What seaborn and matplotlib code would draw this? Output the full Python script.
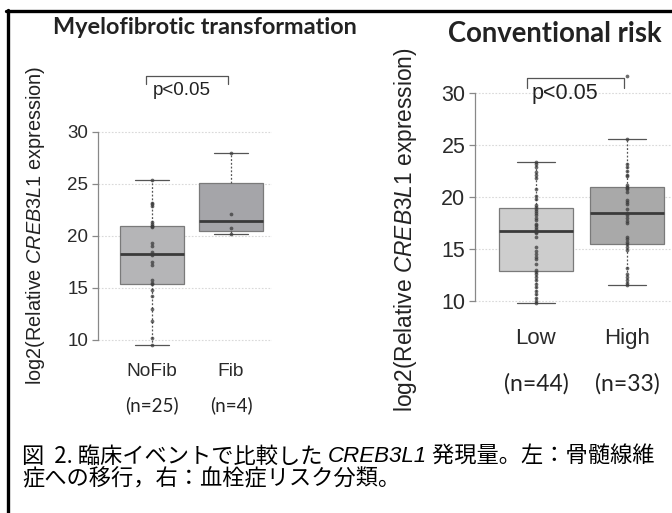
import numpy as np
import pandas as pd
import matplotlib
matplotlib.use("Agg")
import matplotlib.pyplot as plt
from matplotlib.lines import Line2D
import seaborn as sns

# ---------------- data ----------------
fib_groups = ["NoFib", "Fib"]
fib_n = [25, 4]
nofib_vals = [9.5, 10.2, 11.8, 13.0, 14.2, 14.8, 15.4, 15.5, 15.8, 17.2, 17.5, 18.2, 18.3,
              18.5, 19.0, 19.3, 20.9, 21.0, 21.0, 21.2, 21.3, 22.9, 23.1, 23.2, 25.4]
fib_vals = [20.2, 20.8, 22.1, 28.0]

risk_groups = ["Low", "High"]
risk_n = [44, 33]
low_vals = [9.8, 10.0, 10.3, 10.7, 11.0, 11.3, 11.6, 12.0, 12.3, 12.6, 12.8, 13.0, 13.6, 14.0,
            14.2, 14.5, 14.8, 15.2, 16.2, 16.5, 16.6, 16.7, 16.7, 16.9, 17.1, 17.3, 17.4, 17.8,
            18.0, 18.3, 18.5, 18.7, 18.8, 19.0, 19.2, 19.8, 20.1, 20.8, 21.8, 22.1, 22.4, 22.9,
            23.2, 23.4]
high_vals = [11.5, 11.7, 12.0, 12.3, 12.6, 13.2, 14.9, 15.2, 15.5, 15.7, 16.0, 16.2, 17.5,
             17.7, 18.0, 18.3, 18.5, 18.8, 19.3, 19.5, 19.7, 20.5, 20.8, 20.9, 21.0, 21.2,
             22.0, 22.1, 22.5, 22.9, 23.2, 25.6, 31.6]

yticks = [10, 15, 20, 25, 30]
p_text = "p<0.05"
titles = ["Myelofibrotic transformation", "Conventional risk"]
ylabel = r"log2(Relative $\mathit{CREB3L1}$ expression)"
caption1a = "図  2. 臨床イベントで比較した "
caption1b = "CREB3L1"
caption1c = " 発現量。左：骨髄線維"
caption2 = "症への移行，右：血栓症リスク分類。"

# ---------------- style ----------------
sns.set_theme(style="white")
plt.rcParams["font.family"] = ["Liberation Sans", "DejaVu Sans"]
plt.rcParams["mathtext.fontset"] = "custom"
plt.rcParams["mathtext.rm"] = "Liberation Sans"
plt.rcParams["mathtext.it"] = "Liberation Sans:italic"

fig = plt.figure(figsize=(6.72, 5.13), dpi=100)
fig.patch.set_facecolor("white")


def fivenum_stats(vals, label):
    v = np.sort(np.asarray(vals, float))
    n = len(v)
    med = np.median(v)
    half = (n + 1) // 2
    lh = np.median(v[:half])
    uh = np.median(v[n - half:])
    iqr = uh - lh
    lo = v[v >= lh - 1.5 * iqr].min()
    hi = v[v <= uh + 1.5 * iqr].max()
    return dict(label=label, med=med, q1=lh, q3=uh, whislo=lo, whishi=hi, fliers=[])


def panel(ax, groups, values, ns, colors, xlim, ylim, tick_fs, lab_fs, n_fs,
          lab_pad, n_off, grid_right):
    df = pd.DataFrame({"group": np.repeat(groups, [len(v) for v in values]),
                       "value": np.concatenate(values)})
    for yt in yticks:
        ax.plot([xlim[0], grid_right], [yt, yt], color="#d9d9d9", lw=0.8,
                ls=(0, (1.5, 1.5)), zorder=0)
    stats = [fivenum_stats(v, g) for v, g in zip(values, groups)]
    bp = ax.bxp(stats, positions=range(len(groups)), widths=0.81, capwidths=0.42,
                patch_artist=True, showfliers=False,
                boxprops=dict(edgecolor="#7a7a7a", linewidth=0.9),
                medianprops=dict(color="#3a3a3a", linewidth=2.0),
                whiskerprops=dict(color="#555555", linewidth=0.9, linestyle=(0, (1.5, 1.5))),
                capprops=dict(color="#555555", linewidth=0.9), zorder=2)
    for patch, c in zip(bp["boxes"], colors):
        patch.set_facecolor(c)
    sns.stripplot(data=df, x="group", y="value", order=groups, jitter=False,
                  color="#3c3c3c", size=2.7, alpha=0.75, linewidth=0, ax=ax, zorder=3)
    ax.set_xlim(*xlim)
    ax.set_ylim(*ylim)
    ax.set_yticks(yticks)
    ax.set_xlabel("")
    ax.set_ylabel("")
    for s in ["top", "right", "bottom"]:
        ax.spines[s].set_visible(False)
    ax.spines["left"].set_bounds(10, 30)
    ax.spines["left"].set_color("#888888")
    ax.spines["left"].set_linewidth(0.9)
    ax.tick_params(axis="y", left=True, length=4, width=0.9, color="#888888",
                   labelsize=tick_fs, labelcolor="#2a2a2a", pad=3)
    ax.tick_params(axis="x", bottom=False, length=0, labelsize=lab_fs,
                   labelcolor="#2a2a2a", pad=lab_pad)
    ax.set_xticks(range(len(groups)))
    ax.set_xticklabels(groups)
    for i, n in enumerate(ns):
        ax.annotate(f"(n={n})", xy=(i, 0), xycoords=ax.get_xaxis_transform(),
                    xytext=(0, -n_off), textcoords="offset pixels",
                    ha="center", va="center", fontsize=n_fs, family="Lato",
                    color="#222222", annotation_clip=False)
    ax.set_facecolor("none")


# Left panel
axL = fig.add_axes([98 / 672, 1 - 350.4 / 513, 174 / 672, 228.8 / 513])
panel(axL, fib_groups, [nofib_vals, fib_vals], fib_n, ["#b5b5b7", "#a5a5a9"],
      (-0.684, 1.519), (9.0, 31.0), 13.5, 13.8, 13.5, 9, 55, 1.519)

# Right panel
axR = fig.add_axes([475 / 672, 1 - 311.4 / 513, 197 / 672, 249.6 / 513])
panel(axR, risk_groups, [low_vals, high_vals], risk_n, ["#cdcdcd", "#a9a9a9"],
      (-0.67, 1.495), (9.0, 33.0), 15.5, 16, 16.5, 12, 72, 1.495)

# brackets
def bracket(ax, x0, x1, ytop, ybot, ytext, xtext, fs):
    ax.plot([x0, x0, x1, x1], [ybot, ytop, ytop, ybot], color="#555555", lw=0.9,
            clip_on=False, zorder=4)
    ax.text(xtext, ytext, p_text, ha="center", va="center", fontsize=fs,
            color="#222222", clip_on=False)

bracket(axL, -0.076, 0.96, 35.4, 34.6, 34.0, 0.38, 13.5)
bracket(axR, -0.10, 0.967, 31.44, 30.48, 30.0, 0.32, 15.5)

# y labels
axL.text(-0.362, 0.548, ylabel, rotation=90, ha="center", va="center",
         transform=axL.transAxes, fontsize=14.3, color="#222222")
axR.text(-0.355, 0.326, ylabel, rotation=90, ha="center", va="center",
         transform=axR.transAxes, fontsize=16.4, color="#222222")

# titles
fig.text(205 / 672, 1 - 28 / 513, titles[0], ha="center", va="center",
         fontsize=16.9, fontweight="bold", family="Lato", color="#222222")
fig.text(555 / 672, 1 - 34 / 513, titles[1], ha="center", va="center",
         fontsize=19.8, fontweight="bold", family="Lato", color="#222222")

# caption
cjk = ["Noto Sans CJK JP", "DejaVu Sans"]
cap_fs = 16.0
yc = 1 - 456 / 513
t1 = fig.text(22 / 672, yc, caption1a, ha="left", va="center",
              fontsize=cap_fs, family=cjk, color="black")
t2 = fig.text(0, 0, caption1b, fontsize=cap_fs, family="Liberation Sans",
              style="italic", color="black", va="center", ha="left")
t3 = fig.text(0, 0, caption1c, fontsize=cap_fs, family=cjk, color="black",
              va="center", ha="left")
fig.canvas.draw()
r = fig.canvas.get_renderer()
W = fig.bbox.width
bb1 = t1.get_window_extent(r)
t2.set_position((bb1.x1 / W, yc))
fig.canvas.draw()
bb2 = t2.get_window_extent(r)
t3.set_position((bb2.x1 / W, yc))
fig.text(22 / 672, 1 - 479 / 513, caption2, ha="left", va="center",
         fontsize=cap_fs, family=cjk, color="black")

# border lines (top and left)
fig.add_artist(Line2D([6 / 672, 1.0], [1 - 11 / 513, 1 - 11 / 513], color="black",
                      lw=2.4, transform=fig.transFigure))
fig.add_artist(Line2D([7.5 / 672, 7.5 / 672], [0, 1 - 10 / 513], color="black",
                      lw=2.4, transform=fig.transFigure))

fig.savefig("out.png", dpi=100)
